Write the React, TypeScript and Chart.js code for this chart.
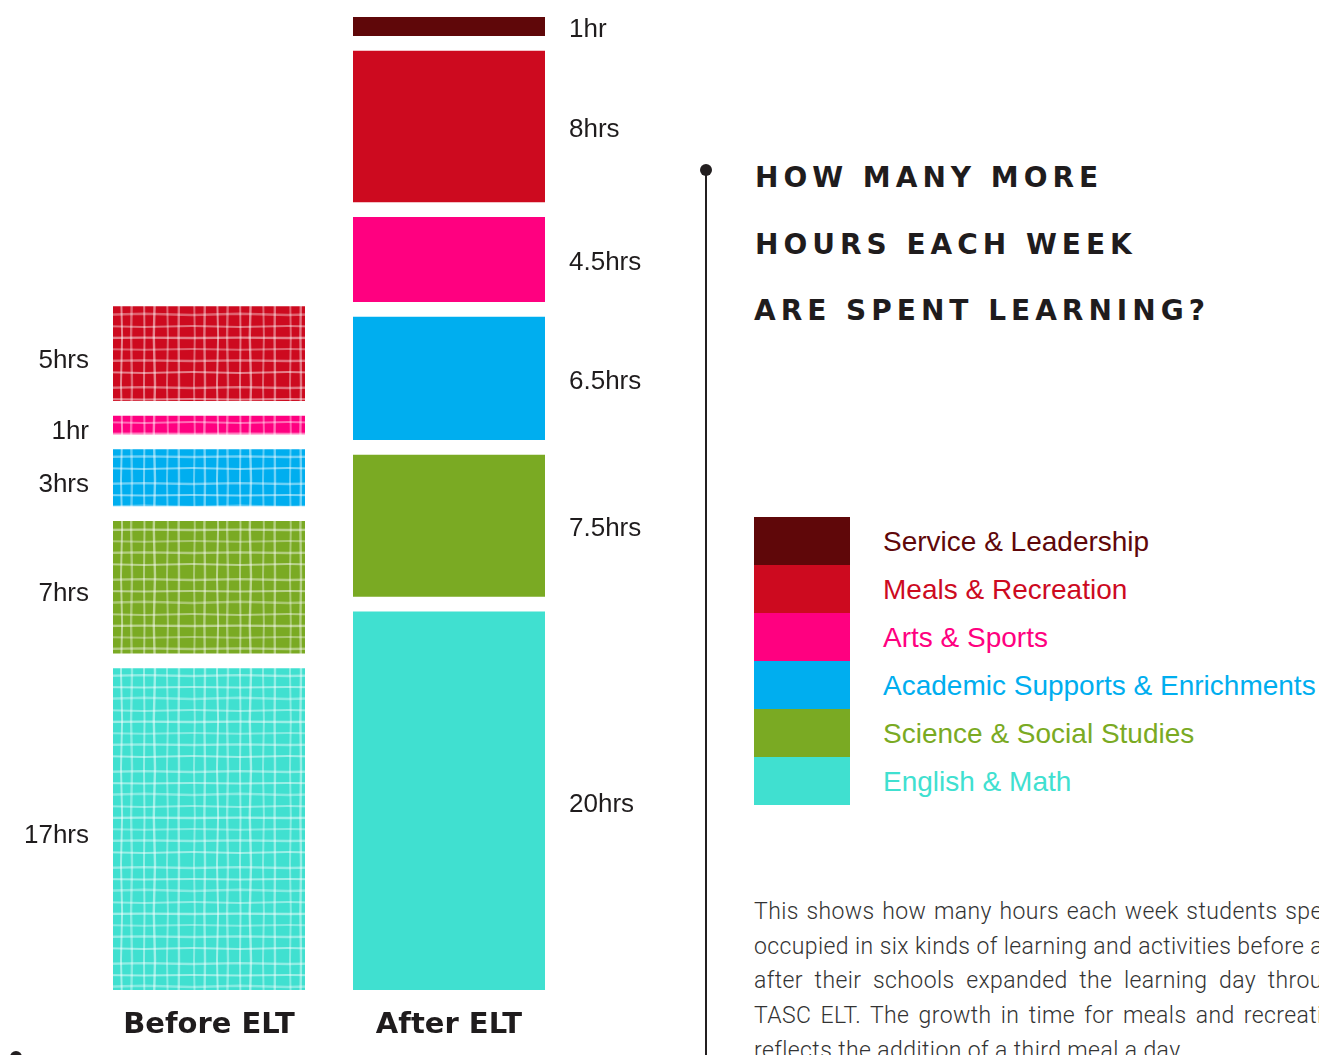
import React, { useEffect, useRef } from 'react';
import { Chart, registerables } from 'chart.js';

Chart.register(...registerables);

// ---------- data ----------
const categories = ['Before ELT', 'After ELT'];
const activities = [
  'Service & Leadership',
  'Meals & Recreation',
  'Arts & Sports',
  'Academic Supports & Enrichments',
  'Science & Social Studies',
  'English & Math',
];
const beforeHours = [0, 5, 1, 3, 7, 17];
const afterHours = [1, 8, 4.5, 6.5, 7.5, 20];
const beforeLabels = ['', '5hrs', '1hr', '3hrs', '7hrs', '17hrs'];
const afterLabels = ['1hr', '8hrs', '4.5hrs', '6.5hrs', '7.5hrs', '20hrs'];
const activityColors = ['#5f0709', '#cd0a1f', '#ff0080', '#00aeef', '#7aaa23', '#40e0d0'];
const titleLines = ['HOW MANY MORE', 'HOURS EACH WEEK', 'ARE SPENT LEARNING?'];
const noteLines = [
  'This shows how many hours each week students spend',
  'occupied in six kinds of learning and activities before and',
  'after their schools expanded the learning day through',
  'TASC ELT. The growth in time for meals and recreation',
  'reflects the addition of a third meal a day.',
];

// visual gap between stacked segments, in hours
const GAP = 0.78;

function floatingRanges(hours: number[]): ([number, number] | null)[] {
  const out: ([number, number] | null)[] = new Array(hours.length).fill(null);
  let cum = 0;
  for (let i = hours.length - 1; i >= 0; i--) {
    if (hours[i] > 0) {
      out[i] = [cum, cum + hours[i]];
      cum += hours[i] + GAP;
    }
  }
  return out;
}

function stackTop(hours: number[]): number {
  const n = hours.filter((h) => h > 0).length;
  return hours.reduce((a, b) => a + b, 0) + (n - 1) * GAP;
}

function makeGridPattern(ctx: CanvasRenderingContext2D, base: string): CanvasPattern | string {
  const size = 96;
  const tile = document.createElement('canvas');
  tile.width = size;
  tile.height = size;
  const t = tile.getContext('2d');
  if (!t) return base;
  t.fillStyle = base;
  t.fillRect(0, 0, size, size);
  const xs = [2, 13, 25, 36, 48, 59, 71, 83];
  const ys = [4, 15, 27, 38, 50, 61, 73, 84];
  const wob = [0.8, -0.6, 1.1, -0.9, 0.5, -1.2, 0.9, -0.4];
  t.lineCap = 'round';
  xs.forEach((x, i) => {
    t.lineWidth = 2 + (i % 2) * 0.4;
    t.strokeStyle = `rgba(255,255,255,${0.38 + (i % 3) * 0.06})`;
    t.beginPath();
    t.moveTo(x, 0);
    t.lineTo(x + wob[i], size / 2);
    t.lineTo(x, size);
    t.stroke();
  });
  ys.forEach((y, i) => {
    t.lineWidth = 2 + ((i + 1) % 2) * 0.4;
    t.strokeStyle = `rgba(255,255,255,${0.36 + ((i + 1) % 3) * 0.06})`;
    t.beginPath();
    t.moveTo(0, y);
    t.lineTo(size / 2, y + wob[(i + 3) % 8]);
    t.lineTo(size, y);
    t.stroke();
  });
  return ctx.createPattern(tile, 'repeat') || base;
}

const hourLabelPlugin = {
  id: 'hourLabels',
  afterDatasetsDraw(chart: any) {
    const { ctx, chartArea } = chart;
    const labelSets = [beforeLabels, afterLabels];
    ctx.save();
    ctx.font = '26px "Liberation Sans", Arial, Helvetica, sans-serif';
    ctx.fillStyle = '#1f1c1d';
    ctx.textBaseline = 'alphabetic';
    chart.data.datasets.forEach((ds: any, di: number) => {
      const meta = chart.getDatasetMeta(di);
      meta.data.forEach((bar: any, ci: number) => {
        const text = labelSets[ci][di];
        if (!text || ds.data[ci] == null) return;
        const { y, base } = bar.getProps(['y', 'base'], true);
        const cy = (y + base) / 2;
        const half = 0.716 * 26 / 2;
        if (ci === 0) {
          ctx.textAlign = 'right';
          ctx.fillText(text, chartArea.left, cy + half + 5);
        } else {
          ctx.textAlign = 'left';
          ctx.fillText(text, chartArea.right, cy + half + 1.5);
        }
      });
    });
    ctx.restore();
  },
};

const CANVAS_W = 690;
const CANVAS_H = 1070;

export default function App() {
  const canvasRef = useRef<HTMLCanvasElement | null>(null);

  useEffect(() => {
    const canvas = canvasRef.current;
    if (!canvas) return;
    const ctx = canvas.getContext('2d');
    if (!ctx) return;
    const beforeRanges = floatingRanges(beforeHours);
    const afterRanges = floatingRanges(afterHours);
    const yMax = Math.max(stackTop(beforeHours), stackTop(afterHours));

    const datasets = activities.map((name, i) => ({
      label: name,
      data: [beforeRanges[i], afterRanges[i]] as any,
      backgroundColor: [makeGridPattern(ctx, activityColors[i]), activityColors[i]] as any,
      borderWidth: 0,
      grouped: false,
      barPercentage: 1,
      categoryPercentage: 0.8,
    }));

    const chart = new Chart(ctx, {
      type: 'bar',
      data: { labels: categories, datasets },
      options: {
        animation: false,
        responsive: false,
        devicePixelRatio: 1,
        layout: { padding: { left: 89, right: 121, top: 17, bottom: 9 } },
        plugins: {
          legend: { display: false },
          tooltip: { enabled: false },
          title: { display: false },
        },
        scales: {
          x: {
            grid: { display: false, drawTicks: false },
            border: { display: false },
            ticks: {
              padding: 21,
              color: '#1f1c1d',
              font: { family: '"DejaVu Sans", Arial, sans-serif', size: 29, weight: 'bold', lineHeight: 1 },
            },
          },
          y: {
            display: false,
            min: 0,
            max: yMax,
          },
        },
      },
      plugins: [hourLabelPlugin],
    });
    return () => chart.destroy();
  }, []);

  const titleTops = [164, 231, 297];

  return (
    <div
      style={{
        position: 'fixed',
        left: 0,
        top: 0,
        width: 1319,
        height: 1055,
        overflow: 'hidden',
        background: '#ffffff',
        fontFamily: '"Liberation Sans", Arial, Helvetica, sans-serif',
      }}
    >
      <canvas
        ref={canvasRef}
        width={CANVAS_W}
        height={CANVAS_H}
        style={{ position: 'absolute', left: 0, top: 0, width: CANVAS_W, height: CANVAS_H }}
      />

      {/* timeline line */}
      <div style={{ position: 'absolute', left: 705, top: 170, width: 2, height: 900, background: '#231f20' }} />
      <div
        style={{
          position: 'absolute',
          left: 700,
          top: 164,
          width: 12,
          height: 12,
          borderRadius: 6,
          background: '#231f20',
        }}
      />
      <div
        style={{
          position: 'absolute',
          left: 10,
          top: 1051,
          width: 12,
          height: 12,
          borderRadius: 6,
          background: '#231f20',
        }}
      />

      {/* title */}
      {titleLines.map((line, i) => (
        <div
          key={line}
          style={{
            position: 'absolute',
            left: i === 2 ? 754 : 755,
            top: titleTops[i],
            fontFamily: '"DejaVu Sans", Arial, sans-serif',
            fontSize: 28,
            lineHeight: '28px',
            fontWeight: 'bold',
            letterSpacing: '5px',
            color: '#1f1c1d',
            whiteSpace: 'nowrap',
          }}
        >
          {line}
        </div>
      ))}

      {/* legend */}
      {activities.map((name, i) => (
        <React.Fragment key={name}>
          <div
            style={{
              position: 'absolute',
              left: 754,
              top: 517 + i * 48,
              width: 96,
              height: 48,
              background: activityColors[i],
            }}
          />
          <div
            style={{
              position: 'absolute',
              left: 883,
              top: 542 + i * 48 - 13.7,
              fontSize: 28,
              lineHeight: '28px',
              color: activityColors[i],
              whiteSpace: 'nowrap',
            }}
          >
            {name}
          </div>
        </React.Fragment>
      ))}

      {/* note */}
      {noteLines.map((line, i) => (
        <div
          key={i}
          style={{
            position: 'absolute',
            left: 754,
            top: 895 + i * 34.7,
            width: 595,
            fontFamily: 'Roboto, "Liberation Sans", Arial, sans-serif',
            fontWeight: 300,
            fontSize: 23,
            letterSpacing: '0.4px',
            lineHeight: '34.7px',
            color: '#333333',
            textAlign: 'justify',
            textAlignLast: i === noteLines.length - 1 ? 'left' : 'justify',
            whiteSpace: 'nowrap',
          }}
        >
          {line}
        </div>
      ))}
    </div>
  );
}
